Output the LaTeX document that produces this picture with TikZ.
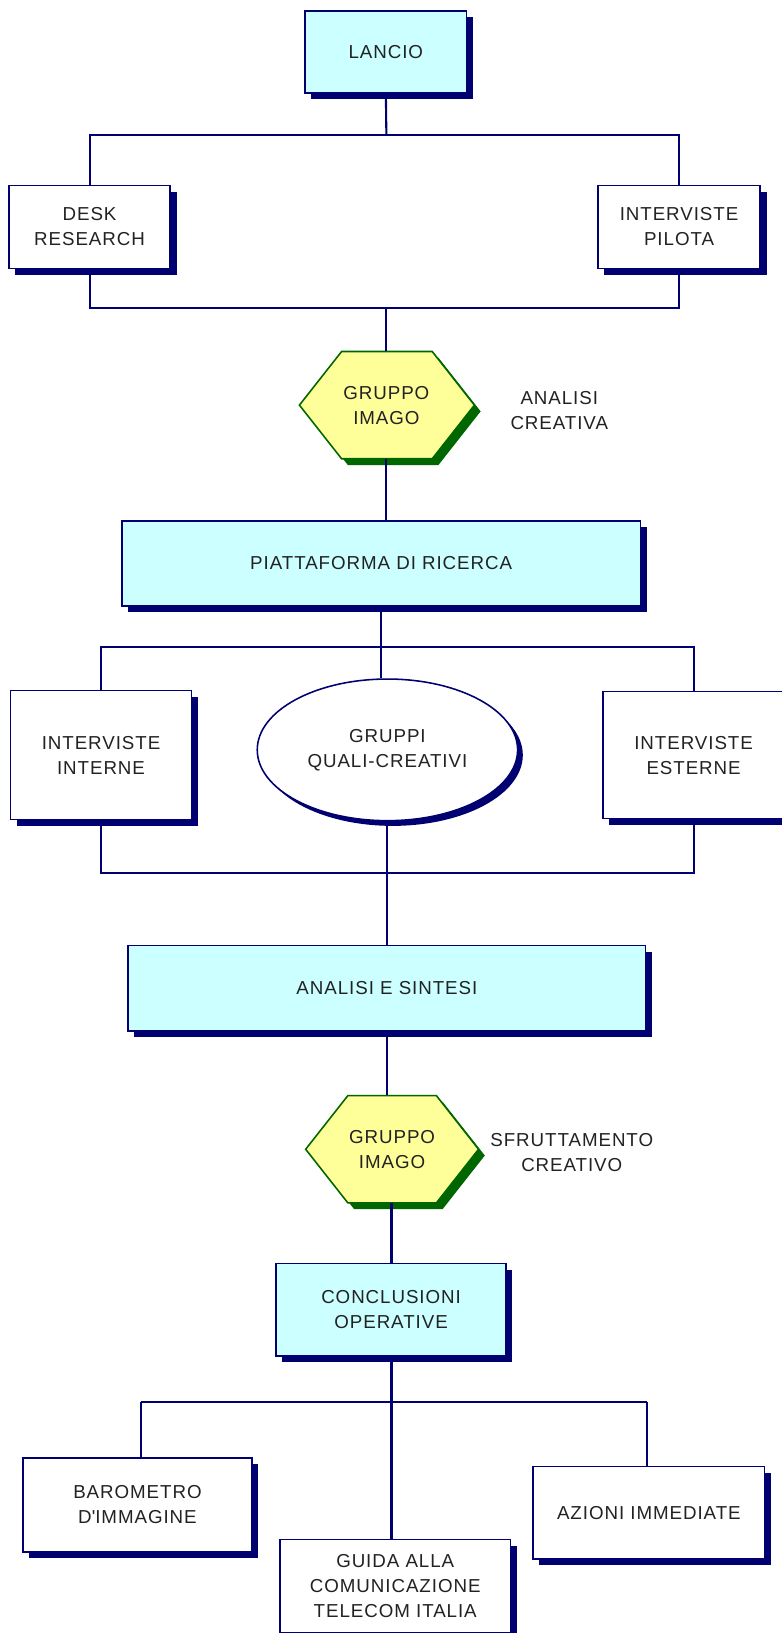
\documentclass[tikz,border=0pt]{standalone}
\usepackage{fontspec}
\setmainfont[LetterSpace=5]{Liberation Sans}
\usetikzlibrary{shadows,shapes.geometric}
\definecolor{navy}{HTML}{000070}
\definecolor{cyanfill}{HTML}{CCFFFF}
\definecolor{yelfill}{HTML}{FFFF99}
\definecolor{dgreen}{HTML}{006600}
\definecolor{txt}{HTML}{222222}
\tikzset{
  sh/.style={drop shadow={shadow xshift=6pt,shadow yshift=-6pt,fill=navy,opacity=1}},
  txtstyle/.style={text=txt, align=center, font=\fontsize{18}{24}\selectfont},
  box/.style={rectangle, draw=navy, line width=1.5pt, fill=white, sh, txtstyle, inner sep=0pt},
  cbox/.style={box, fill=cyanfill},
  ellbox/.style={ellipse, draw=navy, line width=1.5pt, fill=white, txtstyle, inner sep=0pt,
    drop shadow={shadow xshift=5pt,shadow yshift=-5pt,fill=navy,opacity=1}},
  hexshape/.style={draw=dgreen, line width=1.5pt, fill=yelfill, line join=miter,
    drop shadow={shadow xshift=6pt,shadow yshift=-6pt,fill=dgreen,opacity=1}},
  hexnode/.style={rectangle, txtstyle, inner sep=0pt, minimum width=167pt, minimum height=103pt},
  lbl/.style={txtstyle},
  conn/.style={draw=navy, line width=2pt},
  thickconn/.style={draw=navy, line width=3pt},
}
\begin{document}
\begin{tikzpicture}[x=1pt,y=-1pt]
\useasboundingbox (0,0) rectangle (750,1568);
\fill[white] (0,0) rectangle (750,1568);

% top level
\node[cbox, minimum width=155pt, minimum height=79pt] (lancio) at (370.5,50) {LANCIO};
\node[box, minimum width=155pt, minimum height=80pt] (desk) at (86,218) {DESK\\RESEARCH};
\node[box, minimum width=156pt, minimum height=80pt] (pilota) at (652,218) {INTERVISTE\\PILOTA};

\coordinate (j1) at (371,130);
\coordinate (j2) at (371,295.5);

% hexagon 1
\coordinate (h1) at (371,389);
\filldraw[hexshape] (h1) ++(-83.5,0) -- ++(40.5,-51.5) -- ++(87,0) -- ++(40.5,51.5)
  -- ++(-40.5,51.5) -- ++(-87,0) -- cycle;
\node[hexnode] (g1) at (h1) {GRUPPO\\IMAGO};
\node[lbl] (ac) at (537,394) {ANALISI\\CREATIVA};

\node[cbox, minimum width=498pt, minimum height=82pt] (piatt) at (366,541) {PIATTAFORMA DI RICERCA};

\node[box, minimum width=174pt, minimum height=124pt] (interne) at (97,725) {INTERVISTE\\INTERNE};
\node[ellbox, minimum width=250pt, minimum height=136pt] (ell) at (372,720) {GRUPPI\\QUALI-CREATIVI};
\node[box, minimum width=174pt, minimum height=122pt] (esterne) at (666,725) {INTERVISTE\\ESTERNE};

\coordinate (j3) at (366,621);
\coordinate (j4) at (371,838);

\node[cbox, minimum width=497pt, minimum height=82pt] (sintesi) at (371.5,949) {ANALISI E SINTESI};

% hexagon 2
\coordinate (h2) at (376.5,1103.5);
\filldraw[hexshape] (h2) ++(-83,0) -- ++(40.5,-51.5) -- ++(85,0) -- ++(40.5,51.5)
  -- ++(-40.5,51.5) -- ++(-85,0) -- cycle;
\node[hexnode, minimum width=166pt] (g2) at (h2) {GRUPPO\\IMAGO};
\node[lbl] (sc) at (549,1107) {SFRUTTAMENTO\\CREATIVO};

\node[cbox, minimum width=221pt, minimum height=89pt] (concl) at (375.5,1257.5) {CONCLUSIONI\\OPERATIVE};

\node[box, minimum width=220pt, minimum height=90pt] (bar) at (132,1445) {BAROMETRO\\D\textquotesingle IMMAGINE};
\node[box, minimum width=221pt, minimum height=90pt] (guida) at (379.5,1523) {GUIDA ALLA\\COMUNICAZIONE\\TELECOM ITALIA};
\node[box, minimum width=222pt, minimum height=89pt] (azioni) at (623,1452.5) {AZIONI IMMEDIATE};

\coordinate (jl) at (135,1346);
\coordinate (jr) at (621,1346);

% connectors
\draw[conn] (lancio.south) -- (j1);
\draw[conn] (desk.north) |- (j1) -| (pilota.north);
\draw[conn] (desk.south) |- (j2) -| (pilota.south);
\draw[conn] (j2) -- (g1.north);
\draw[conn] (g1.south) -- (g1.south |- piatt.north);
\draw[conn] (piatt.south) -- (j3);
\draw[conn] (interne.north) |- (j3) -| (esterne.north);
\draw[conn] (j3) -- (j3 |- ell.north);
\draw[conn] (interne.south) |- (j4) -| (esterne.south);
\draw[conn] (ell.south) -- (ell.south |- sintesi.north);
\draw[conn] (sintesi.south) -- (sintesi.south |- g2.north);
\draw[thickconn] (concl.north |- g2.south) -- (concl.north);
\draw[thickconn] (concl.south) -- (concl.south |- guida.north);
\draw[conn] (jl) -- (jr);
\draw[conn] (jl) -- (jl |- bar.north);
\draw[conn] (jr) -- (jr |- azioni.north);
\end{tikzpicture}
\end{document}
